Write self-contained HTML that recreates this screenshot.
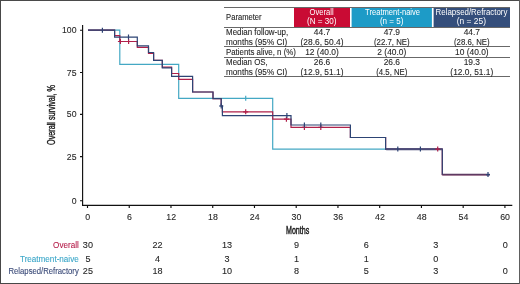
<!DOCTYPE html>
<html><head><meta charset="utf-8">
<style>
html,body{margin:0;padding:0;background:#fff;}
body{width:520px;height:284px;overflow:hidden;position:relative;}
svg{position:absolute;left:0;top:0;}
text{font-family:"Liberation Sans",sans-serif;}
</style></head>
<body>
<svg width="520" height="284" viewBox="0 0 520 284">
<defs><filter id="b" filterUnits="userSpaceOnUse" x="0" y="0" width="520" height="284" color-interpolation-filters="sRGB"><feOffset dx="0" dy="0"/></filter></defs>
<rect width="520" height="284" fill="#fff"/>
<g filter="url(#b)">
<rect x="294" y="7.6" width="56" height="19.6" fill="#c90b34"/>
<rect x="351.6" y="7.6" width="80.3" height="19.6" fill="#1d9bc7"/>
<rect x="433.6" y="7.6" width="76.4" height="19.6" fill="#344e7b"/>
<g stroke="#686868" stroke-width="1">
<line x1="224" y1="7.5" x2="510" y2="7.5"/>
<line x1="224" y1="27.5" x2="510" y2="27.5"/>
<line x1="224" y1="46.5" x2="510" y2="46.5"/>
<line x1="224" y1="57.5" x2="510" y2="57.5"/>
<line x1="224" y1="76.5" x2="510" y2="76.5"/>
</g>
<text transform="translate(226.10,19.80) scale(0.905,1)" text-anchor="start" font-size="8.4" fill="#262626" stroke="#262626" stroke-width="0.110">Parameter</text>
<text transform="translate(226.10,35.00) scale(0.946,1)" text-anchor="start" font-size="8.4" fill="#262626" stroke="#262626" stroke-width="0.106">Median follow-up,</text>
<text transform="translate(226.00,44.80) scale(0.974,1)" text-anchor="start" font-size="8.4" fill="#262626" stroke="#262626" stroke-width="0.103">months (95% CI)</text>
<text transform="translate(226.00,55.00) scale(0.9369,1)" text-anchor="start" font-size="8.4" fill="#262626" stroke="#262626" stroke-width="0.107">Patients alive, n (%)</text>
<text transform="translate(226.10,65.00) scale(0.9402,1)" text-anchor="start" font-size="8.4" fill="#262626" stroke="#262626" stroke-width="0.106">Median OS,</text>
<text transform="translate(226.00,74.60) scale(0.974,1)" text-anchor="start" font-size="8.4" fill="#262626" stroke="#262626" stroke-width="0.103">months (95% CI)</text>
<text transform="translate(309.50,15.20) scale(0.9088,1)" text-anchor="start" font-size="8.4" fill="#fff">Overall</text>
<text transform="translate(307.00,24.00) scale(0.9648,1)" text-anchor="start" font-size="8.4" fill="#fff">(N = 30)</text>
<text transform="translate(365.10,15.20) scale(0.9037,1)" text-anchor="start" font-size="8.4" fill="#fff">Treatment-naive</text>
<text transform="translate(379.90,24.00) scale(0.9622,1)" text-anchor="start" font-size="8.4" fill="#fff">(n = 5)</text>
<text transform="translate(435.60,15.20) scale(0.9391,1)" text-anchor="start" font-size="8.4" fill="#fff">Relapsed/Refractory</text>
<text transform="translate(456.80,24.00) scale(1.0003,1)" text-anchor="start" font-size="8.4" fill="#fff">(n = 25)</text>
<text transform="translate(322.00,35.00) scale(1.0,1)" text-anchor="middle" font-size="8.4" fill="#262626" stroke="#262626" stroke-width="0.100">44.7</text>
<text transform="translate(322.00,44.80) scale(1.0,1)" text-anchor="middle" font-size="8.4" fill="#262626" stroke="#262626" stroke-width="0.100">(28.6, 50.4)</text>
<text transform="translate(322.00,55.00) scale(1.0,1)" text-anchor="middle" font-size="8.4" fill="#262626" stroke="#262626" stroke-width="0.100">12 (40.0)</text>
<text transform="translate(322.00,65.00) scale(1.0,1)" text-anchor="middle" font-size="8.4" fill="#262626" stroke="#262626" stroke-width="0.100">26.6</text>
<text transform="translate(322.00,74.60) scale(1.0,1)" text-anchor="middle" font-size="8.4" fill="#262626" stroke="#262626" stroke-width="0.100">(12.9, 51.1)</text>
<text transform="translate(391.80,35.00) scale(1.0,1)" text-anchor="middle" font-size="8.4" fill="#262626" stroke="#262626" stroke-width="0.100">47.9</text>
<text transform="translate(391.80,44.80) scale(0.93,1)" text-anchor="middle" font-size="8.4" fill="#262626" stroke="#262626" stroke-width="0.108">(22.7, NE)</text>
<text transform="translate(391.80,55.00) scale(1.0,1)" text-anchor="middle" font-size="8.4" fill="#262626" stroke="#262626" stroke-width="0.100">2 (40.0)</text>
<text transform="translate(391.80,65.00) scale(1.0,1)" text-anchor="middle" font-size="8.4" fill="#262626" stroke="#262626" stroke-width="0.100">26.6</text>
<text transform="translate(391.80,74.60) scale(0.93,1)" text-anchor="middle" font-size="8.4" fill="#262626" stroke="#262626" stroke-width="0.108">(4.5, NE)</text>
<text transform="translate(471.80,35.00) scale(1.0,1)" text-anchor="middle" font-size="8.4" fill="#262626" stroke="#262626" stroke-width="0.100">44.7</text>
<text transform="translate(471.80,44.80) scale(0.93,1)" text-anchor="middle" font-size="8.4" fill="#262626" stroke="#262626" stroke-width="0.108">(28.6, NE)</text>
<text transform="translate(471.80,55.00) scale(1.0,1)" text-anchor="middle" font-size="8.4" fill="#262626" stroke="#262626" stroke-width="0.100">10 (40.0)</text>
<text transform="translate(471.80,65.00) scale(1.0,1)" text-anchor="middle" font-size="8.4" fill="#262626" stroke="#262626" stroke-width="0.100">19.3</text>
<text transform="translate(471.80,74.60) scale(1.0,1)" text-anchor="middle" font-size="8.4" fill="#262626" stroke="#262626" stroke-width="0.100">(12.0, 51.1)</text>
<g stroke="#111" stroke-width="1.15" fill="none">
<path d="M82.6,25 V205.4 H512.3"/>
<path d="M80,30.2 H82.6 M80,72.45 H82.6 M80,114.3 H82.6 M80,156.55 H82.6 M80,200.7 H82.6"/>
<path d="M87.50,205.4 v2.6 M129.24,205.4 v2.6 M170.98,205.4 v2.6 M212.73,205.4 v2.6 M254.47,205.4 v2.6 M296.21,205.4 v2.6 M337.95,205.4 v2.6 M379.69,205.4 v2.6 M421.44,205.4 v2.6 M463.18,205.4 v2.6 M504.92,205.4 v2.6"/>
</g>
<text transform="translate(76.50,33.30) scale(1.0,1)" text-anchor="end" font-size="8.7" fill="#262626" stroke="#262626" stroke-width="0.100">100</text>
<text transform="translate(76.50,75.55) scale(1.0,1)" text-anchor="end" font-size="8.7" fill="#262626" stroke="#262626" stroke-width="0.100">75</text>
<text transform="translate(76.50,117.40) scale(1.0,1)" text-anchor="end" font-size="8.7" fill="#262626" stroke="#262626" stroke-width="0.100">50</text>
<text transform="translate(76.50,159.65) scale(1.0,1)" text-anchor="end" font-size="8.7" fill="#262626" stroke="#262626" stroke-width="0.100">25</text>
<text transform="translate(76.50,203.80) scale(1.0,1)" text-anchor="end" font-size="8.7" fill="#262626" stroke="#262626" stroke-width="0.100">0</text>
<text transform="translate(87.70,219.50) scale(1.0,1)" text-anchor="middle" font-size="8.8" fill="#262626" stroke="#262626" stroke-width="0.100">0</text>
<text transform="translate(129.44,219.50) scale(1.0,1)" text-anchor="middle" font-size="8.8" fill="#262626" stroke="#262626" stroke-width="0.100">6</text>
<text transform="translate(171.18,219.50) scale(1.0,1)" text-anchor="middle" font-size="8.8" fill="#262626" stroke="#262626" stroke-width="0.100">12</text>
<text transform="translate(212.93,219.50) scale(1.0,1)" text-anchor="middle" font-size="8.8" fill="#262626" stroke="#262626" stroke-width="0.100">18</text>
<text transform="translate(254.67,219.50) scale(1.0,1)" text-anchor="middle" font-size="8.8" fill="#262626" stroke="#262626" stroke-width="0.100">24</text>
<text transform="translate(296.41,219.50) scale(1.0,1)" text-anchor="middle" font-size="8.8" fill="#262626" stroke="#262626" stroke-width="0.100">30</text>
<text transform="translate(338.15,219.50) scale(1.0,1)" text-anchor="middle" font-size="8.8" fill="#262626" stroke="#262626" stroke-width="0.100">36</text>
<text transform="translate(379.89,219.50) scale(1.0,1)" text-anchor="middle" font-size="8.8" fill="#262626" stroke="#262626" stroke-width="0.100">42</text>
<text transform="translate(421.64,219.50) scale(1.0,1)" text-anchor="middle" font-size="8.8" fill="#262626" stroke="#262626" stroke-width="0.100">48</text>
<text transform="translate(463.38,219.50) scale(1.0,1)" text-anchor="middle" font-size="8.8" fill="#262626" stroke="#262626" stroke-width="0.100">54</text>
<text transform="translate(505.12,219.50) scale(1.0,1)" text-anchor="middle" font-size="8.8" fill="#262626" stroke="#262626" stroke-width="0.100">60</text>
<text transform="translate(297.60,233.90) scale(0.71,1)" text-anchor="middle" font-size="10" fill="#1a1a1a" stroke="#1a1a1a" stroke-width="0.423">Months</text>
<text transform="translate(54.6,115.0) rotate(-90) scale(0.725,1)" text-anchor="middle" font-size="10" fill="#1a1a1a" stroke="#1a1a1a" stroke-width="0.38">Overall survival, %</text>
<g fill="none" stroke-width="1.2">
<path stroke="#44a8c4" d="M88,30.2 H119.8 V64.3 H178.7 V98.3 H272.7 V149.2 H420.4"/>
<path stroke="#b0204a" d="M88,30.2 H114.6 V35.7 H119.8 V41.5 H137.3 V47.4 H148.5 V53.5 H153.6 V60.3 H162.3 V67.2 H171.6 V73.5 H178.7 V79.4 H192.6 V92 H213 V98.6 H221.2 V106 H222.4 V111.8 H272.7 V119.2 H291 V127.4 H350.4 V137.5 H385.6 V149.1 H442.3 V174.7 H489.6"/>
<path stroke="#2d4474" d="M88,30.2 H114.6 V37.2 H137.3 V45.8 H148.5 V52.5 H153.6 V60.3 H162.3 V67.9 H171.6 V76.4 H192.6 V92 H213 V98.6 H221.2 V106 H222.4 V115.6 H291 V125.0 H350.4 V137.5 H385.6 V149.1 H442.3 V174.5 H489.6"/>
<path stroke="#4c4c78" stroke-width="1.9" d="M386.2,149.2 H442.3"/>
<path stroke="#5e3a62" stroke-width="1.7" d="M442.3,174.6 H489.6"/>
</g>
<g fill="none" stroke-width="1.2">
<path stroke="#44a8c4" d="M245.7,95.8 v5.0"/>
<path stroke="#b0204a" d="M117.9,41.5 h5.0 M120.4,39.0 v5.0 M126.1,41.5 h5.0 M128.6,39.0 v5.0 M243.2,111.8 h5.0 M245.7,109.3 v5.0 M283.9,119.2 h5.0 M286.4,116.7 v5.0 M301.9,127.4 h5.0 M304.4,124.9 v5.0 M318.3,127.4 h5.0 M320.8,124.9 v5.0 M435.2,149.1 h5.0 M437.7,146.6 v5.0"/>
<path stroke="#2d4474" d="M102.4,27.7 v5.0 M128.5,34.5 v5.0 M219.0,106 h4.4 M221.2,103.5 v5.0 M286.9,113.1 v5.0 M304.4,122.5 v5.0 M320.8,122.5 v5.0 M397.8,146.6 v5.0 M420.4,146.6 v5.0 M486,174.6 h4 M488,172.1 v5.0"/>
</g>
<text transform="translate(53.10,248.30) scale(0.9213,1)" text-anchor="start" font-size="8.8" fill="#b51d4a" stroke="#b51d4a" stroke-width="0.109">Overall</text>
<text transform="translate(20.00,261.60) scale(0.9223,1)" text-anchor="start" font-size="8.8" fill="#3aa6c8" stroke="#3aa6c8" stroke-width="0.108">Treatment-naive</text>
<text transform="translate(8.50,274.40) scale(0.8764,1)" text-anchor="start" font-size="8.8" fill="#3a4a78" stroke="#3a4a78" stroke-width="0.114">Relapsed/Refractory</text>
<text transform="translate(87.90,248.30) scale(1.03,1)" text-anchor="middle" font-size="8.8" fill="#262626" stroke="#262626" stroke-width="0.097">30</text>
<text transform="translate(157.47,248.30) scale(1.03,1)" text-anchor="middle" font-size="8.8" fill="#262626" stroke="#262626" stroke-width="0.097">22</text>
<text transform="translate(227.04,248.30) scale(1.03,1)" text-anchor="middle" font-size="8.8" fill="#262626" stroke="#262626" stroke-width="0.097">13</text>
<text transform="translate(296.61,248.30) scale(1.03,1)" text-anchor="middle" font-size="8.8" fill="#262626" stroke="#262626" stroke-width="0.097">9</text>
<text transform="translate(366.18,248.30) scale(1.03,1)" text-anchor="middle" font-size="8.8" fill="#262626" stroke="#262626" stroke-width="0.097">6</text>
<text transform="translate(435.75,248.30) scale(1.03,1)" text-anchor="middle" font-size="8.8" fill="#262626" stroke="#262626" stroke-width="0.097">3</text>
<text transform="translate(505.32,248.30) scale(1.03,1)" text-anchor="middle" font-size="8.8" fill="#262626" stroke="#262626" stroke-width="0.097">0</text>
<text transform="translate(87.90,261.60) scale(1.03,1)" text-anchor="middle" font-size="8.8" fill="#262626" stroke="#262626" stroke-width="0.097">5</text>
<text transform="translate(157.47,261.60) scale(1.03,1)" text-anchor="middle" font-size="8.8" fill="#262626" stroke="#262626" stroke-width="0.097">4</text>
<text transform="translate(227.04,261.60) scale(1.03,1)" text-anchor="middle" font-size="8.8" fill="#262626" stroke="#262626" stroke-width="0.097">3</text>
<text transform="translate(296.61,261.60) scale(1.03,1)" text-anchor="middle" font-size="8.8" fill="#262626" stroke="#262626" stroke-width="0.097">1</text>
<text transform="translate(366.18,261.60) scale(1.03,1)" text-anchor="middle" font-size="8.8" fill="#262626" stroke="#262626" stroke-width="0.097">1</text>
<text transform="translate(435.75,261.60) scale(1.03,1)" text-anchor="middle" font-size="8.8" fill="#262626" stroke="#262626" stroke-width="0.097">0</text>
<text transform="translate(87.90,274.40) scale(1.03,1)" text-anchor="middle" font-size="8.8" fill="#262626" stroke="#262626" stroke-width="0.097">25</text>
<text transform="translate(157.47,274.40) scale(1.03,1)" text-anchor="middle" font-size="8.8" fill="#262626" stroke="#262626" stroke-width="0.097">18</text>
<text transform="translate(227.04,274.40) scale(1.03,1)" text-anchor="middle" font-size="8.8" fill="#262626" stroke="#262626" stroke-width="0.097">10</text>
<text transform="translate(296.61,274.40) scale(1.03,1)" text-anchor="middle" font-size="8.8" fill="#262626" stroke="#262626" stroke-width="0.097">8</text>
<text transform="translate(366.18,274.40) scale(1.03,1)" text-anchor="middle" font-size="8.8" fill="#262626" stroke="#262626" stroke-width="0.097">5</text>
<text transform="translate(435.75,274.40) scale(1.03,1)" text-anchor="middle" font-size="8.8" fill="#262626" stroke="#262626" stroke-width="0.097">3</text>
<text transform="translate(505.32,274.40) scale(1.03,1)" text-anchor="middle" font-size="8.8" fill="#262626" stroke="#262626" stroke-width="0.097">0</text>
</g>
<rect x="0" y="0" width="520" height="1" fill="#4a4a4a"/>
<rect x="0" y="0" width="1" height="284" fill="#474747"/>
<rect x="0" y="283" width="520" height="1" fill="#474747"/>
<rect x="519" y="0" width="1" height="284" fill="#5e5e5e"/>
</svg>
</body></html>
